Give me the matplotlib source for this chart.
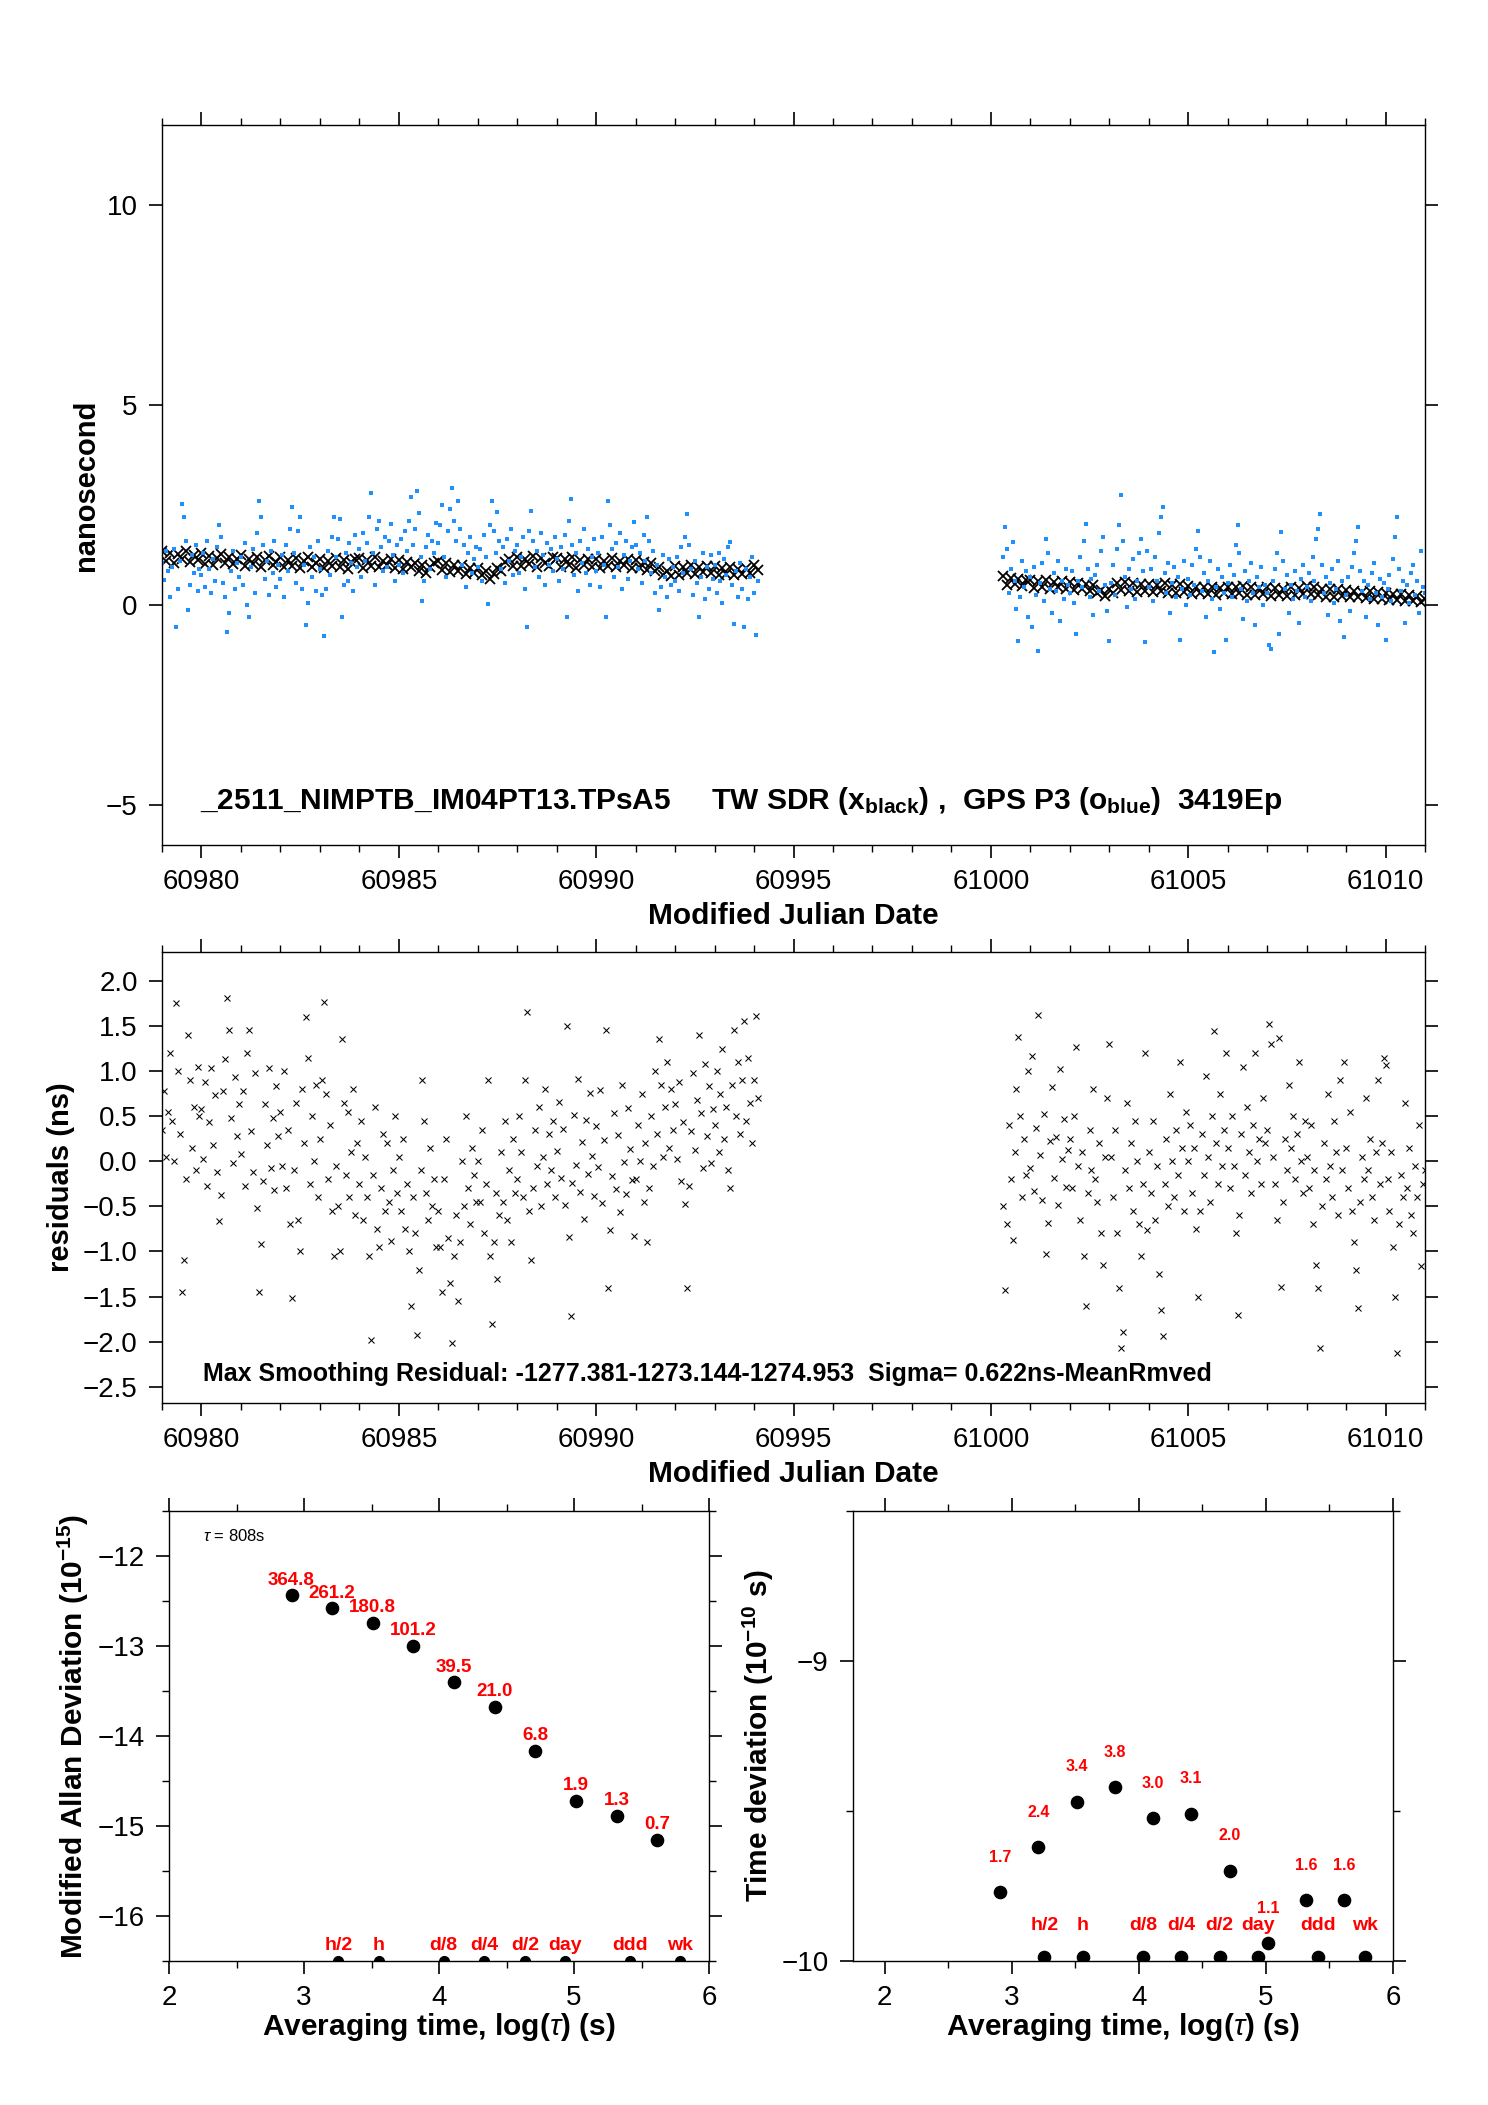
import numpy as np
import matplotlib
matplotlib.use('Agg')
import matplotlib.pyplot as plt
from matplotlib.ticker import MultipleLocator, FuncFormatter, FormatStrFormatter

plt.rcParams['font.family'] = ['Liberation Sans', 'DejaVu Sans']
plt.rcParams['mathtext.fontset'] = 'custom'
plt.rcParams['mathtext.rm'] = 'Liberation Sans'
plt.rcParams['mathtext.bf'] = 'Liberation Sans:bold'
plt.rcParams['mathtext.it'] = 'Liberation Sans:italic'

# ---------------- data ----------------
# TW SDR (black x), sampled every 0.1 day
TW_SEG1_START = 60979.0
TW_SEG2_START = 61000.3
TW_STEP = 0.1
TW_SEG1 = [
    1.36, 1.10, 1.30, 1.05, 1.28, 1.14, 1.35, 1.08, 1.24, 1.12,
    1.29, 1.03, 1.22, 1.00, 1.18, 1.27, 1.06, 1.21, 1.02, 1.16,
    1.24, 0.98, 1.15, 1.02, 1.21, 0.95, 1.13, 1.23, 0.99, 1.08,
    1.19, 0.94, 1.12, 0.98, 1.17, 0.92, 1.10, 1.20, 0.96, 1.05,
    1.16, 0.92, 1.09, 0.97, 1.18, 0.95, 1.12, 0.90, 1.07, 1.15,
    1.18, 0.93, 1.12, 0.97, 1.20, 0.94, 1.10, 0.99, 1.16, 0.92,
    1.12, 0.90, 1.08, 0.94, 1.05, 0.85, 0.99, 0.80, 0.95, 1.06,
    1.10, 0.88, 1.05, 0.82, 0.99, 0.84, 1.01, 0.78, 0.93, 0.80,
    0.92, 0.76, 0.84, 0.66, 0.78, 0.92, 0.86, 1.08, 1.14, 0.98,
    1.20, 0.98, 1.16, 1.02, 1.22, 0.96, 1.18, 1.04, 0.97, 1.19,
    1.17, 0.95, 1.14, 0.99, 1.19, 0.93, 1.12, 1.01, 1.16, 0.96,
    1.15, 0.92, 1.10, 0.97, 1.17, 0.94, 1.11, 0.99, 1.14, 0.93,
    1.13, 0.92, 1.08, 0.88, 1.04, 0.84, 0.95, 0.74, 0.86, 0.72,
    0.98, 0.76, 0.95, 0.80, 0.99, 0.78, 0.94, 0.82, 0.97, 0.79,
    0.97, 0.75, 0.93, 0.78, 0.95, 0.74, 0.91, 0.77, 0.92, 0.80,
    0.99, 0.88]
TW_SEG2 = [
    0.72, 0.50, 0.68, 0.52, 0.66, 0.48, 0.63,
    0.62, 0.42, 0.60, 0.45, 0.63, 0.40, 0.58, 0.44, 0.61, 0.41,
    0.58, 0.38, 0.55, 0.40, 0.53, 0.36, 0.50, 0.30, 0.38, 0.22,
    0.40, 0.30, 0.56, 0.38, 0.57, 0.36, 0.54, 0.33, 0.52, 0.35,
    0.53, 0.32, 0.51, 0.34, 0.55, 0.31, 0.50, 0.30, 0.52, 0.33,
    0.47, 0.28, 0.45, 0.30, 0.44, 0.27, 0.46, 0.25, 0.43, 0.29,
    0.46, 0.27, 0.44, 0.30, 0.48, 0.26, 0.45, 0.24, 0.43, 0.28,
    0.44, 0.23, 0.42, 0.25, 0.40, 0.22, 0.44, 0.24, 0.43, 0.27,
    0.48, 0.28, 0.46, 0.24, 0.40, 0.20, 0.39, 0.21, 0.41, 0.22,
    0.37, 0.20, 0.35, 0.19, 0.33, 0.17, 0.34, 0.14, 0.33, 0.16,
    0.30, 0.13, 0.28, 0.12, 0.27, 0.10, 0.25, 0.09, 0.23, 0.08,
    0.14]

# GPS P3 (blue dots) and residuals, sampled every 0.05 day
GPS_SEG1_START = 60979.0
GPS_SEG2_START = 61000.3
GPS_STEP = 0.05
GPS_SEG1 = [
    1.05, 0.62, 1.35, 0.85, 0.2, 0.95, 1.4, -0.55, 0.4, 1.1, 2.53, 2.2, 1.6, -0.13, 0.5, 1.25, 0.8, 1.5, 0.35, 0.9,
    0.75, 1.3, 0.45, 1.6, 0.9, 0.3, 1.15, 0.6, 1.45, 1.99, 1.7, 0.55, 0.2, -0.68, -0.2, 0.85, 1.35, 0.4, 1.05, 0.7,
    1.2, 0.5, 1.55, 0.0, -0.3, 0.95, 1.4, 0.3, 1.8, 2.61, 2.2, 1.5, 0.65, 1.1, 0.25, 1.35, 0.8, 1.6, 0.45, 1.0,
    0.65, 1.25, 0.2, 1.5, 0.85, 1.9, 2.45, 1.3, 0.55, 1.85, 2.2, 0.4, 1.0, -0.51, 0.05, 1.45, 0.7, 1.2, 0.35, 1.6,
    0.9, 0.25, -0.78, 0.4, 1.35, 0.75, 1.7, 2.2, 1.2, 1.65, 2.15, -0.3, 0.5, 1.3, 0.6, 1.55, 1.05, 0.35, 1.75, 0.95,
    1.4, 0.7, 1.8, 1.1, 1.55, 2.2, 2.8, 1.3, 0.5, 1.9, 2.1, 1.45, 0.85, 1.7, 0.95, 1.6, 2.03, 1.25, 0.6, 1.5,
    1.0, 1.65, 0.8, 1.85, 1.35, 2.1, 2.7, 1.5, 1.9, 2.86, 2.3, 1.2, 0.11, 0.6, 1.45, 1.75, 0.9, 1.6, 1.3, 2.05,
    1.55, 2.0, 2.49, 1.2, 0.7, 1.85, 2.4, 2.93, 2.1, 1.6, 2.61, 1.9, 1.0, 1.5, 0.45, 1.3, 1.7, 0.8, 1.15, 1.45,
    0.95, 1.4, 0.6, 1.75, 1.2, 0.03, 2.0, 2.6, 1.85, 1.3, 2.32, 1.6, 0.9, 1.45, 0.55, 1.65, 1.1, 1.9, 0.75, 1.35,
    1.5, 0.8, 1.2, 1.7, 0.4, -0.55, 1.85, 2.36, 1.6, 0.95, 1.35, 0.7, 1.8, 1.25, 0.5, 1.55, 1.0, 1.4, 0.85, 1.7,
    1.15, 0.6, 1.45, 0.9, 1.75, -0.29, 2.1, 2.65, 1.5, 0.75, 1.3, 0.35, 1.6, 1.05, 1.9, 0.8, 1.4, 0.5, 1.2, 1.65,
    0.85, 1.3, 0.45, 1.7, 1.0, -0.3, 2.61, 2.0, 1.4, 0.7, 1.55, 0.95, 1.8, 0.4, 1.25, 1.6, 0.65, 1.1, 1.45, 2.07,
    1.5, 0.9, 1.3, 0.55, 1.75, 1.1, 2.2, 1.6, 0.8, 1.35, 0.3, 1.0, -0.12, 0.45, 1.25, 0.7, 0.2, 1.15, 0.5, 0.95,
    0.6, 1.2, 0.35, 1.45, 0.8, 1.7, 2.28, 1.5, 0.9, 0.25, 1.1, 0.55, -0.3, 0.7, 1.3, 0.15, 0.95, 0.4, 1.25, 0.65,
    1.0, 0.3, 1.3, 0.6, 0.05, 1.15, 0.75, 1.45, 1.57, 0.5, -0.47, 0.85, 0.2, 1.05, 0.4, -0.55, 0.9, 0.15, 0.7, 1.2,
    0.3, -0.75, 0.6]
GPS_SEG2 = [
    1.2, 1.95, 1.4, 0.3, 0.9, 1.57, 0.6, -0.1, -0.89, 0.2, 1.1, 0.45, 0.85, -0.3,
    0.7, -0.55, 0.95, 0.25, -1.14, 0.55, 1.05, 0.1, 1.65, 1.3, 0.4, -0.2, 0.8, 0.35, 1.1, -0.4, 0.6, 0.15, 0.9, 0.5,
    0.3, 0.85, 0.05, -0.72, 0.6, 1.2, 0.45, 1.6, 2.03, 0.9, 0.2, 0.65, -0.25, 0.75, 1.0, 0.35, 1.35, 1.7, 0.5, -0.15,
    -0.89, 0.55, 1.0, 0.25, 1.4, 2.0, 2.76, 1.6, 0.7, -0.05, 0.9, 0.4, 1.15, 0.15, 0.6, 1.3, 1.65, 0.85, -0.93, 1.36,
    0.45, 0.9, 0.1, 1.2, 0.6, 1.8, 2.2, 2.45, 0.8, 0.3, 1.05, -0.2, 0.55, 0.95, 0.2, 0.7, -0.87, 0.4, 1.1, 0.0,
    0.65, 0.25, 1.0, 0.5, 1.4, 1.86, 1.2, 0.35, 0.8, -0.3, 0.6, 1.1, 0.15, -1.18, 0.45, 0.9, -0.1, 0.7, 0.3, -0.87,
    0.55, 1.0, 0.2, 0.75, 1.5, 1.99, 1.3, 0.4, -0.35, 0.85, 0.1, 0.6, 1.05, 0.3, -0.5, 0.7, 0.45, 0.95, 0.0, 0.5,
    0.3, -1.01, -1.1, 0.6, 0.9, 1.3, -0.72, 1.82, 1.1, 0.4, 0.75, -0.2, 0.5, 0.15, 0.85, 0.35, -0.45, 0.65, 1.0, 0.2,
    0.45, 0.8, 0.1, 1.2, 0.6, 1.65, 1.9, 2.28, 1.0, 0.3, 0.7, -0.25, 0.55, 0.9, 0.05, 0.4, 1.1, -0.4, 0.6, -0.8,
    0.25, 0.7, -0.15, 0.95, 1.3, 1.6, 1.95, 0.85, 0.35, 0.6, -0.3, 0.5, 0.15, 0.8, 1.05, 0.3, -0.5, 0.65, 0.2, 0.55,
    -0.87, 0.4, 0.75, 0.1, 1.15, 1.7, 2.21, 0.9, 0.35, 0.6, -0.45, 0.5, 0.05, 0.8, 1.0, 0.25, 0.6, -0.2, 1.36, 0.45,
    0.3]
RES_SEG1 = [
    0.35, 0.78, 0.05, 0.55, 1.2, 0.45, 0.0, 1.75, 1.0, 0.3, -1.45, -1.1, -0.2, 1.4, 0.9, 0.15, 0.6, -0.1, 1.05, 0.5,
    0.58, 0.03, 0.88, -0.27, 0.43, 1.03, 0.18, 0.73, -0.12, -0.66, -0.37, 0.78, 1.13, 1.81, 1.45, 0.48, -0.02, 0.93, 0.28, 0.63,
    0.08, 0.78, -0.27, 1.2, 1.45, 0.33, -0.12, 0.98, -0.52, -1.45, -0.92, -0.22, 0.63, 0.18, 1.03, -0.07, 0.48, -0.32, 0.83, 0.28,
    0.55, -0.05, 1.0, -0.3, 0.35, -0.7, -1.52, -0.1, 0.65, -0.65, -1.0, 0.8, 0.2, 1.6, 1.15, -0.25, 0.5, 0.0, 0.85, -0.4,
    0.25, 0.9, 1.77, 0.75, -0.2, 0.4, -0.55, -1.05, -0.05, -0.5, -1.0, 1.35, 0.65, -0.15, 0.55, -0.4, 0.1, 0.8, -0.6, 0.2,
    -0.25, 0.45, -0.65, 0.05, -0.4, -1.05, -1.98, -0.15, 0.6, -0.75, -0.95, -0.3, 0.3, -0.55, 0.2, -0.45, -0.88, -0.1, 0.5, -0.35,
    0.05, -0.55, 0.25, -0.75, -0.25, -1.0, -1.6, -0.4, -0.8, -1.93, -1.2, -0.1, 0.9, 0.45, -0.35, -0.65, 0.15, -0.5, -0.2, -0.95,
    -0.55, -0.95, -1.45, -0.2, 0.25, -0.85, -1.35, -2.02, -1.05, -0.6, -1.55, -0.9, 0.0, -0.5, 0.5, -0.3, -0.7, 0.15, -0.15, -0.45,
    0.0, -0.45, 0.35, -0.8, -0.25, 0.9, -1.05, -1.8, -0.9, -0.35, -1.3, -0.6, 0.1, -0.45, 0.45, -0.65, -0.1, -0.9, 0.25, -0.35,
    -0.2, 0.5, 0.1, -0.4, 0.9, 1.66, -0.55, -1.1, -0.3, 0.35, -0.05, 0.6, -0.5, 0.05, 0.8, -0.25, 0.3, -0.1, 0.45, -0.4,
    0.11, 0.66, -0.19, 0.36, -0.49, 1.5, -0.84, -1.71, -0.24, 0.51, -0.04, 0.91, -0.34, 0.21, -0.64, 0.46, -0.14, 0.76, 0.06, -0.39,
    0.39, -0.06, 0.79, -0.46, 0.24, 1.45, -1.4, -0.76, -0.16, 0.54, -0.31, 0.29, -0.56, 0.84, -0.01, -0.36, 0.59, 0.14, -0.21, -0.83,
    -0.2, 0.4, 0.0, 0.75, -0.45, 0.2, -0.9, -0.3, 0.5, -0.05, 1.0, 0.3, 1.35, 0.85, 0.05, 0.6, 1.1, 0.15, 0.8, 0.35,
    0.63, 0.03, 0.88, -0.22, 0.43, -0.47, -1.41, -0.27, 0.33, 0.98, 0.13, 0.68, 1.4, 0.53, -0.07, 1.08, 0.28, 0.83, -0.02, 0.58,
    0.4, 1.0, 0.1, 0.75, 1.25, 0.25, 0.6, -0.1, -0.3, 0.85, 1.45, 0.5, 1.1, 0.3, 0.9, 1.55, 0.45, 1.15, 0.65, 0.2,
    0.9, 1.61, 0.7]
RES_SEG2 = [
    -0.5, -1.43, -0.7, 0.4, -0.2, -0.87, 0.1, 0.8, 1.38, 0.5, -0.4, 0.25, -0.15, 1.0,
    -0.08, 1.17, -0.33, 0.37, 1.62, 0.07, -0.43, 0.52, -1.03, -0.68, 0.22, 0.82, -0.18, 0.27, -0.48, 1.02, 0.02, 0.47, -0.28, 0.12,
    0.25, -0.3, 0.5, 1.27, -0.05, -0.65, 0.1, -1.05, -1.61, -0.35, 0.35, -0.1, 0.8, -0.2, -0.45, 0.2, -0.8, -1.15, 0.05, 0.7,
    1.3, 0.05, -0.4, 0.35, -0.8, -1.4, -2.07, -1.89, -0.1, 0.65, -0.3, 0.2, -0.55, 0.45, 0.0, -0.7, -1.05, -0.25, 1.2, -0.76,
    0.1, -0.35, 0.45, -0.65, -0.05, -1.25, -1.65, -1.94, -0.25, 0.25, -0.5, 0.75, 0.0, -0.4, 0.35, -0.15, 1.1, 0.15, -0.55, 0.55,
    0.0, 0.4, -0.35, 0.15, -0.75, -1.5, -0.55, 0.3, -0.15, 0.95, 0.05, -0.45, 0.5, 1.44, 0.2, -0.25, 0.75, -0.05, 0.35, 1.2,
    0.15, -0.3, 0.5, -0.05, -0.8, -1.7, -0.6, 0.3, 1.05, -0.15, 0.6, 0.1, -0.35, 0.4, 1.2, 0.0, 0.25, -0.25, 0.7, 0.2,
    0.35, 1.52, 1.3, 0.05, -0.25, -0.65, 1.37, -1.39, -0.45, 0.25, -0.1, 0.85, 0.15, 0.5, -0.2, 0.3, 1.1, 0.0, -0.35, 0.45,
    0.05, -0.3, 0.4, -0.7, -0.1, -1.15, -1.4, -2.07, -0.5, 0.2, -0.2, 0.75, -0.05, -0.4, 0.45, 0.1, -0.6, 0.9, -0.1, 1.1,
    0.15, -0.3, 0.55, -0.55, -0.9, -1.2, -1.63, -0.45, 0.05, -0.2, 0.7, -0.1, 0.25, -0.4, -0.65, 0.1, 0.9, -0.25, 0.2, 1.15,
    1.07, -0.2, -0.55, 0.1, -0.95, -1.5, -2.13, -0.7, -0.15, -0.4, 0.65, -0.3, 0.15, -0.6, -0.8, -0.05, -0.4, 0.4, -1.16, -0.25,
    -0.1]

# stability
TAU0 = 808
AVG_FACTORS = [1, 2, 4, 8, 16, 32, 64, 128, 256, 512]
MDEV_E15 = [364.8, 261.2, 180.8, 101.2, 39.5, 21.0, 6.8, 1.9, 1.3, 0.7]
MDEV_LABELS = ['364.8', '261.2', '180.8', '101.2', '39.5', '21.0', '6.8', '1.9', '1.3', '0.7']
TDEV_E10 = [1.7, 2.4, 3.4, 3.8, 3.0, 3.1, 2.0, 1.15, 1.6, 1.6]
TDEV_LABELS = ['1.7', '2.4', '3.4', '3.8', '3.0', '3.1', '2.0', '1.1', '1.6', '1.6']
EVENT_LABELS = ['h/2', 'h', 'd/8', 'd/4', 'd/2', 'day', 'ddd', 'wk']
EVENT_SECONDS = [1800, 3600, 10800, 21600, 43200, 86400, 259200, 604800]
EVENT_Y_MDEV = -16.5
EVENT_Y_TDEV = -9.987

TITLE_TOP = (r'_2511_NIMPTB_IM04PT13.TPsA5     TW SDR (x$_{\mathbf{black}}$) ,  '
             r'GPS P3 (o$_{\mathbf{blue}}$)  3419Ep')
TITLE_MID = 'Max Smoothing Residual: -1277.381-1273.144-1274.953  Sigma= 0.622ns-MeanRmved'

# ---------------- figure ----------------
W, H = 1488, 2105
fig = plt.figure(figsize=(W / 100, H / 100), dpi=100)


def box(l, t, r, b):
    return [l / W, 1 - b / H, (r - l) / W, (b - t) / H]


ax1 = fig.add_axes(box(162, 125, 1425, 845))
ax2 = fig.add_axes(box(162, 952, 1425, 1403))
ax3 = fig.add_axes(box(169, 1511, 709, 1961))
ax4 = fig.add_axes(box(853, 1511, 1393, 1961))


def style(ax):
    ax.tick_params(which='both', direction='out', top=True, right=True,
                   labelsize=20, pad=8)
    ax.tick_params(which='major', length=9.4, width=1.2)
    ax.tick_params(which='minor', length=4.7, width=1.0)
    for s in ax.spines.values():
        s.set_linewidth(1.0)


def grid(start, step, n):
    return start + step * np.arange(n)


minus_fmt = FuncFormatter(lambda v, p: ('%.1f' % v).replace('-', '\u2212'))

# --- top panel ---
for start, vals in [(TW_SEG1_START, TW_SEG1), (TW_SEG2_START, TW_SEG2)]:
    ax1.plot(grid(start, TW_STEP, len(vals)), vals, ls='none', marker='x',
             ms=6.5, mew=1.3, color='black')
for start, vals in [(GPS_SEG1_START, GPS_SEG1), (GPS_SEG2_START, GPS_SEG2)]:
    ax1.plot(grid(start, GPS_STEP, len(vals)), vals, ls='none', marker='s',
             ms=3.2, mew=0, color='#1E90FF')
ax1.set_xlim(60979, 61011)
ax1.set_ylim(-6, 12)
ax1.xaxis.set_major_locator(MultipleLocator(5))
ax1.xaxis.set_minor_locator(MultipleLocator(1))
ax1.xaxis.set_major_formatter(FormatStrFormatter('%d'))
ax1.yaxis.set_major_locator(MultipleLocator(5))
style(ax1)
ax1.text(0.0301, 0.05, TITLE_TOP, transform=ax1.transAxes, fontsize=21.5,
         fontweight='bold', va='baseline', ha='left')

# --- middle panel ---
for start, vals in [(GPS_SEG1_START, RES_SEG1), (GPS_SEG2_START, RES_SEG2)]:
    ax2.plot(grid(start, GPS_STEP, len(vals)), vals, ls='none', marker='x',
             ms=5, mew=0.75, color='black')
ax2.set_xlim(60979, 61011)
ax2.set_ylim(-2.68, 2.32)
ax2.xaxis.set_major_locator(MultipleLocator(5))
ax2.xaxis.set_minor_locator(MultipleLocator(1))
ax2.xaxis.set_major_formatter(FormatStrFormatter('%d'))
ax2.yaxis.set_major_locator(MultipleLocator(0.5))
ax2.yaxis.set_major_formatter(minus_fmt)
style(ax2)
ax2.text(0.0325, 0.0488, TITLE_MID, transform=ax2.transAxes, fontsize=18,
         fontweight='bold', va='baseline', ha='left')

# --- stability panels ---
log_tau = np.log10(TAU0 * np.array(AVG_FACTORS))
mdev_log = np.log10(np.array(MDEV_E15) * 1e-15)
tdev_log = np.log10(np.array(TDEV_E10) * 1e-10)
ev_x = np.log10(EVENT_SECONDS)

ax3.plot(log_tau, mdev_log, ls='none', marker='o', ms=8.8, color='black')
for x, y, lab in zip(log_tau, mdev_log, MDEV_LABELS):
    ax3.annotate(lab, (x, y), xytext=(0, 11), textcoords='offset points',
                 ha='center', va='center', color='red', fontsize=13.5, fontweight='bold')
ax3.plot(ev_x, [EVENT_Y_MDEV] * len(ev_x), ls='none', marker='o', ms=7, color='black')
for x, lab in zip(ev_x, EVENT_LABELS):
    ax3.annotate(lab, (x, EVENT_Y_MDEV), xytext=(0, 11), textcoords='offset points',
                 ha='center', va='center', color='red', fontsize=14, fontweight='bold')
ax3.set_xlim(2, 6)
ax3.set_ylim(-16.5, -11.5)
ax3.xaxis.set_major_locator(MultipleLocator(1))
ax3.xaxis.set_minor_locator(MultipleLocator(0.5))
ax3.yaxis.set_major_locator(MultipleLocator(1))
ax3.yaxis.set_minor_locator(MultipleLocator(0.5))
style(ax3)
ax3.text(0.063, 0.933, r'$\tau$ = %ds' % TAU0, transform=ax3.transAxes,
         fontsize=12, va='baseline', ha='left')

ax4.plot(log_tau, tdev_log, ls='none', marker='o', ms=8.8, color='black')
for x, y, lab in zip(log_tau, tdev_log, TDEV_LABELS):
    ax4.annotate(lab, (x, y), xytext=(0, 25), textcoords='offset points',
                 ha='center', va='center', color='red', fontsize=11.5, fontweight='bold')
ax4.plot(ev_x, [EVENT_Y_TDEV] * len(ev_x), ls='none', marker='o', ms=8.8, color='black')
for x, lab in zip(ev_x, EVENT_LABELS):
    ax4.annotate(lab, (x, EVENT_Y_TDEV), xytext=(0, 23), textcoords='offset points',
                 ha='center', va='center', color='red', fontsize=14, fontweight='bold')
ax4.set_xlim(1.75, 6)
ax4.set_ylim(-10, -8.5)
ax4.xaxis.set_major_locator(MultipleLocator(1))
ax4.xaxis.set_minor_locator(MultipleLocator(0.5))
ax4.yaxis.set_major_locator(MultipleLocator(1))
ax4.yaxis.set_minor_locator(MultipleLocator(0.5))
style(ax4)

# --- axis labels ---
def ftext(x, y, s, **kw):
    fig.text(x / W, 1 - y / H, s, fontweight='bold', **kw)


ftext(793.5, 924, 'Modified Julian Date', fontsize=21.5, ha='center', va='baseline')
ftext(793.5, 1482, 'Modified Julian Date', fontsize=21.5, ha='center', va='baseline')
ftext(439, 2035, r'Averaging time, log($\tau$) (s)', fontsize=21.5, ha='center', va='baseline')
ftext(1123, 2035, r'Averaging time, log($\tau$) (s)', fontsize=21.5, ha='center', va='baseline')
ftext(86, 485, 'nanosecond', fontsize=21, rotation=90, ha='center', va='center')
ftext(61, 1177, 'residuals (ns)', fontsize=21, rotation=90, ha='center', va='center')
ftext(73, 1736, r'Modified Allan Deviation (10$^{\mathbf{-15}}$)', fontsize=21.5,
      rotation=90, ha='center', va='center')
ftext(758, 1736, r'Time deviation (10$^{\mathbf{-10}}$ s)', fontsize=21.5,
      rotation=90, ha='center', va='center')

fig.savefig('out.png', dpi=100)
